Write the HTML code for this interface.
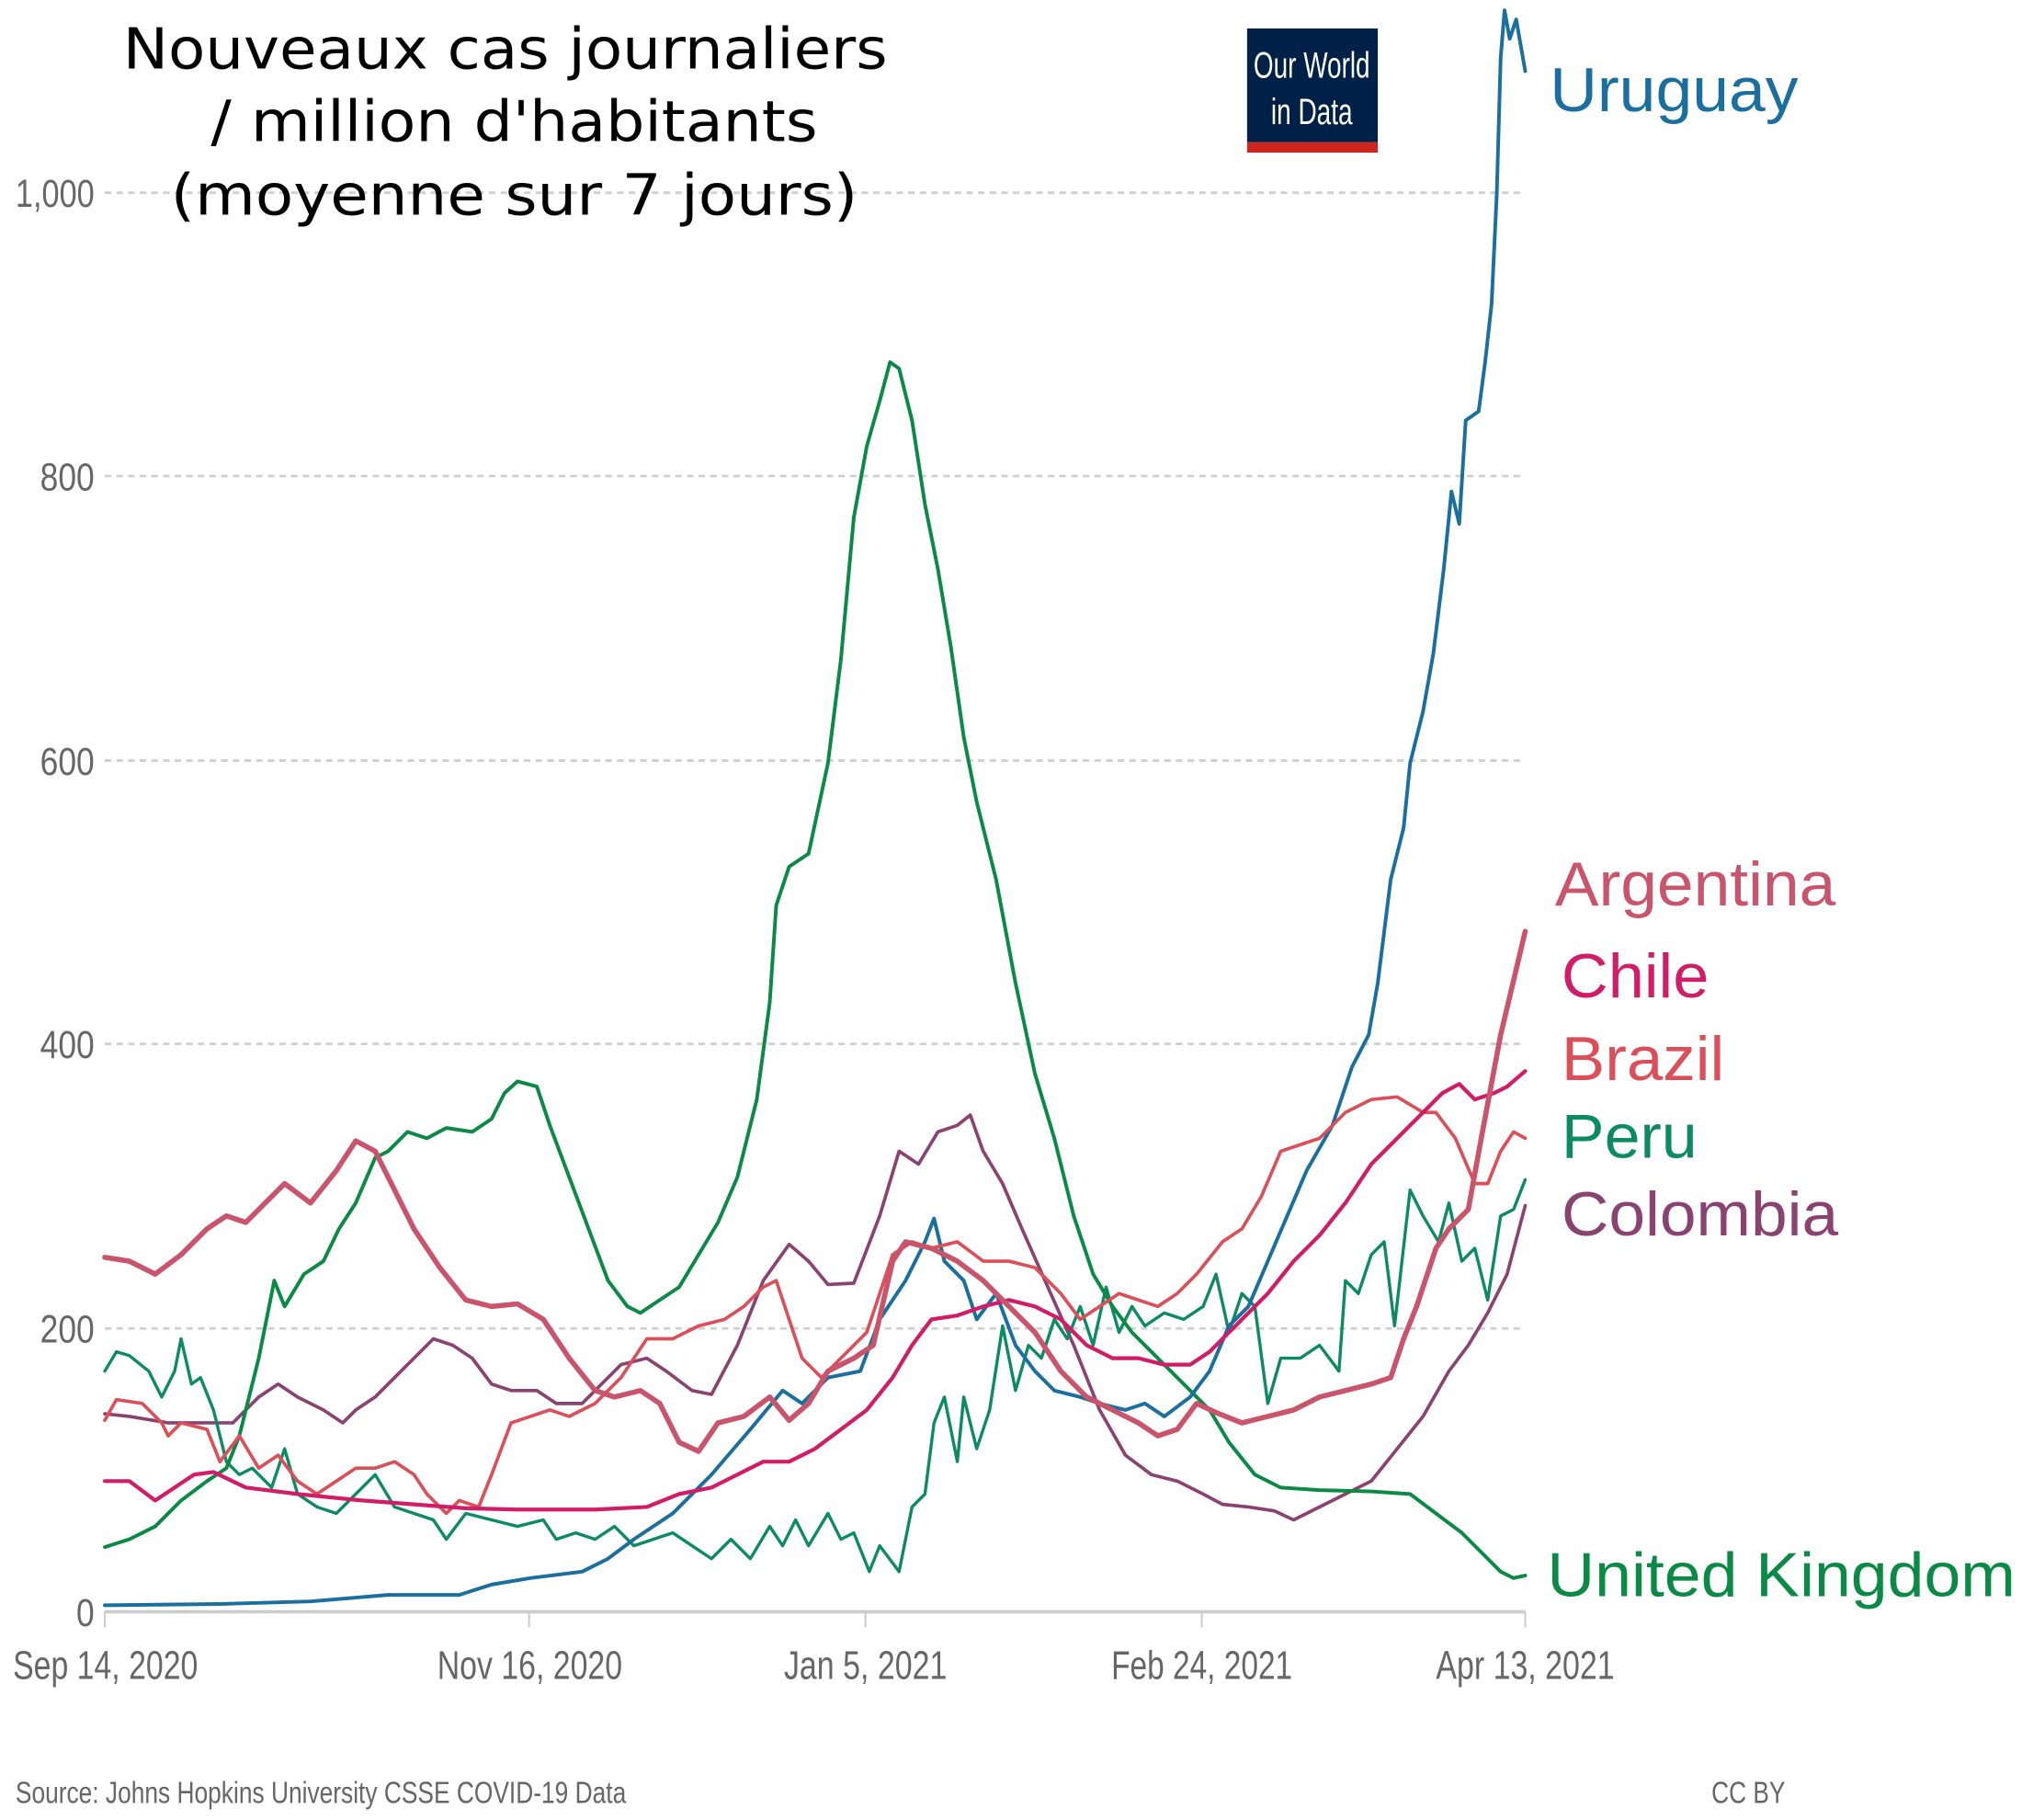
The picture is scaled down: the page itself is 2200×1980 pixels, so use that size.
<!DOCTYPE html>
<html><head><meta charset="utf-8"><style>
html,body{margin:0;padding:0;background:#fff;}
svg{display:block;}
.ax{font-family:"Liberation Sans",sans-serif;fill:#666;}
.lab{font-family:"Liberation Sans",sans-serif;}
.t{font-family:"DejaVu Sans",sans-serif;fill:#000;font-size:44px;}
polyline{fill:none;stroke-linejoin:round;stroke-linecap:round;}
</style></head><body>
<svg width="2200" height="1980" viewBox="0 0 1563 1407" preserveAspectRatio="none">
<rect width="1563" height="1407" fill="#fff"/>
<g stroke="#cfcfcf" stroke-width="2" stroke-dasharray="5,4">
<line x1="81" y1="149" x2="1179" y2="149"/>
<line x1="81" y1="368" x2="1179" y2="368"/>
<line x1="81" y1="588" x2="1179" y2="588"/>
<line x1="81" y1="807" x2="1179" y2="807"/>
<line x1="81" y1="1027" x2="1179" y2="1027"/>
</g>
<line x1="81" y1="1246" x2="1179" y2="1246" stroke="#ccc" stroke-width="2.5"/>
<g stroke="#ccc" stroke-width="1.5">
<line x1="81" y1="1246" x2="81" y2="1258"/><line x1="409" y1="1246" x2="409" y2="1258"/>
<line x1="669" y1="1246" x2="669" y2="1258"/><line x1="929" y1="1246" x2="929" y2="1258"/>
<line x1="1179" y1="1246" x2="1179" y2="1258"/>
</g>
<g class="ax" font-size="30" text-anchor="end">
<text x="73" y="160" textLength="61" lengthAdjust="spacingAndGlyphs">1,000</text>
<text x="73" y="379" textLength="42" lengthAdjust="spacingAndGlyphs">800</text>
<text x="73" y="599" textLength="42" lengthAdjust="spacingAndGlyphs">600</text>
<text x="73" y="818" textLength="42" lengthAdjust="spacingAndGlyphs">400</text>
<text x="73" y="1038" textLength="42" lengthAdjust="spacingAndGlyphs">200</text>
<text x="73" y="1257" textLength="14" lengthAdjust="spacingAndGlyphs">0</text>
</g>
<g class="ax" font-size="31" fill="#555">
<text x="10" y="1298" textLength="143" lengthAdjust="spacingAndGlyphs">Sep 14, 2020</text>
<text x="338" y="1298" textLength="143" lengthAdjust="spacingAndGlyphs">Nov 16, 2020</text>
<text x="606" y="1298" textLength="126" lengthAdjust="spacingAndGlyphs">Jan 5, 2021</text>
<text x="859" y="1298" textLength="140" lengthAdjust="spacingAndGlyphs">Feb 24, 2021</text>
<text x="1110" y="1298" textLength="138" lengthAdjust="spacingAndGlyphs">Apr 13, 2021</text>
</g>
<text class="ax" x="12" y="1394" font-size="24" textLength="472" lengthAdjust="spacingAndGlyphs">Source: Johns Hopkins University CSSE COVID-19 Data</text>
<text class="ax" x="1323" y="1394" font-size="24" textLength="57" lengthAdjust="spacingAndGlyphs">CC BY</text>
<text class="t" x="95" y="53" textLength="591" lengthAdjust="spacingAndGlyphs">Nouveaux cas journaliers</text>
<text class="t" x="163" y="109" textLength="469" lengthAdjust="spacingAndGlyphs">/ million d'habitants</text>
<text class="t" x="132" y="166" textLength="531" lengthAdjust="spacingAndGlyphs">(moyenne sur 7 jours)</text>
<rect x="964" y="22" width="101" height="88" fill="#002147"/>
<rect x="964" y="110" width="101" height="8" fill="#ce261e"/>
<g class="lab" fill="#fff" font-size="28" text-anchor="middle">
<text x="1014" y="60" textLength="90" lengthAdjust="spacingAndGlyphs">Our World</text>
<text x="1014" y="96" textLength="63" lengthAdjust="spacingAndGlyphs">in Data</text>
</g>
<!-- Colombia -->
<polyline stroke="#8a4270" stroke-width="2.6" points="81,1093 100,1095 130,1100 160,1100 180,1100 200,1080 215,1070 230,1080 250,1090 265,1100 275,1090 290,1080 305,1065 320,1050 335,1035 350,1040 365,1050 380,1070 395,1075 415,1075 430,1085 450,1085 465,1070 480,1055 500,1050 515,1060 535,1075 550,1078 570,1040 590,990 610,962 625,975 640,993 660,992 680,940 695,890 710,900 725,875 740,870 750,862 760,890 775,915 790,950 810,995 830,1040 850,1090 870,1125 890,1140 910,1145 930,1155 945,1163 965,1165 985,1168 1000,1175 1020,1165 1040,1155 1060,1145 1080,1120 1100,1095 1120,1060 1135,1040 1150,1015 1165,985 1179,932"/>
<!-- Peru -->
<polyline stroke="#0c8a62" stroke-width="2.4" points="81,1060 90,1045 100,1048 115,1060 125,1080 135,1060 140,1035 148,1070 155,1065 165,1090 175,1130 185,1140 195,1135 210,1150 220,1120 230,1155 245,1165 260,1170 275,1155 290,1140 305,1165 320,1170 335,1175 345,1190 360,1170 380,1175 400,1180 420,1175 430,1190 445,1185 460,1190 475,1180 490,1195 505,1190 520,1185 535,1195 550,1205 565,1190 580,1205 595,1180 605,1195 615,1175 625,1195 640,1170 650,1190 660,1185 672,1215 680,1195 695,1215 705,1165 715,1155 722,1100 730,1080 740,1130 745,1080 755,1120 765,1090 775,1025 785,1075 795,1040 805,1050 815,1020 825,1035 835,1010 845,1040 855,995 865,1030 875,1010 885,1025 900,1015 915,1020 930,1010 940,985 950,1030 960,1000 970,1010 980,1085 990,1050 1005,1050 1020,1040 1035,1060 1040,990 1050,1000 1060,970 1070,960 1078,1025 1090,920 1100,940 1112,960 1120,930 1130,975 1140,965 1150,1005 1160,940 1170,935 1179,912"/>
<!-- UK -->
<polyline stroke="#0a8a45" stroke-width="2.8" points="81,1196 100,1190 120,1180 140,1160 160,1145 175,1135 185,1110 200,1050 212,990 220,1010 235,985 250,975 262,950 275,930 290,895 300,890 315,875 330,880 345,872 365,875 380,865 390,845 400,836 415,840 425,870 440,910 455,950 470,990 485,1010 495,1015 510,1005 525,995 540,970 555,945 570,910 585,850 595,775 600,700 610,670 625,660 640,590 650,510 660,400 670,345 680,310 688,280 695,285 705,325 715,390 725,440 735,500 745,570 755,620 770,680 785,760 800,830 815,880 830,940 845,985 860,1010 875,1030 890,1045 905,1060 920,1075 935,1090 950,1115 970,1140 990,1150 1020,1152 1060,1153 1090,1155 1110,1170 1130,1185 1150,1205 1160,1215 1170,1220 1179,1218"/>
<!-- Uruguay -->
<polyline stroke="#1a6f9e" stroke-width="2.8" points="81,1241 170,1240 240,1238 300,1233 355,1233 380,1225 410,1220 450,1215 470,1205 490,1190 520,1170 550,1140 580,1105 605,1075 620,1085 640,1065 665,1060 680,1020 700,990 715,960 722,942 730,975 745,990 755,1020 770,1000 785,1040 800,1060 815,1075 835,1080 850,1085 870,1090 885,1085 900,1095 920,1080 935,1060 950,1025 965,1010 980,975 995,940 1010,905 1030,870 1045,825 1058,800 1065,760 1075,680 1085,640 1090,590 1100,550 1108,505 1116,440 1122,380 1128,405 1133,325 1143,318 1148,280 1153,235 1157,150 1160,45 1163,8 1167,30 1172,15 1179,55"/>
<!-- Brazil -->
<polyline stroke="#dc4f58" stroke-width="2.6" points="81,1098 90,1082 110,1085 125,1100 130,1110 140,1100 160,1105 170,1130 185,1110 200,1135 215,1125 230,1145 245,1155 260,1145 275,1135 290,1135 305,1130 320,1140 330,1155 345,1170 355,1160 370,1165 380,1140 395,1100 410,1095 425,1090 440,1095 460,1085 480,1065 500,1035 520,1035 540,1025 560,1020 575,1010 590,995 600,990 610,1020 620,1050 635,1065 650,1050 670,1030 690,970 705,960 720,965 740,960 760,975 780,975 800,980 820,1000 835,1020 850,1010 865,1000 880,1005 895,1010 910,1000 925,985 945,960 960,950 975,925 990,890 1005,885 1020,880 1040,860 1060,850 1080,848 1100,860 1110,860 1125,880 1140,915 1150,915 1160,890 1170,875 1179,880"/>
<!-- Chile -->
<polyline stroke="#d11d67" stroke-width="3" points="81,1145 100,1145 120,1160 150,1140 165,1138 190,1150 230,1155 280,1160 320,1163 360,1166 400,1167 460,1167 500,1165 525,1155 550,1150 570,1140 590,1130 610,1130 630,1120 650,1105 670,1090 690,1065 705,1040 720,1020 740,1017 760,1010 780,1005 800,1010 820,1020 840,1040 860,1050 880,1050 900,1055 920,1055 935,1045 950,1030 965,1015 980,1000 1000,975 1020,955 1040,930 1060,900 1080,880 1100,860 1115,845 1128,838 1140,850 1155,845 1165,840 1179,828"/>
<!-- Argentina -->
<polyline stroke="#c9546b" stroke-width="4" points="81,972 100,975 120,985 140,970 160,950 175,940 190,945 205,930 220,915 240,930 260,905 275,882 290,890 305,920 320,950 340,980 360,1005 380,1010 400,1008 420,1020 440,1050 460,1075 475,1080 495,1075 510,1085 525,1115 540,1122 555,1100 575,1095 595,1080 610,1098 625,1085 640,1060 660,1050 675,1040 690,975 700,960 720,965 740,975 760,990 780,1010 800,1030 820,1060 840,1080 860,1090 880,1100 895,1110 910,1105 925,1085 940,1092 960,1100 980,1095 1000,1090 1020,1080 1040,1075 1060,1070 1075,1065 1085,1035 1095,1010 1110,965 1120,950 1135,935 1145,880 1160,800 1179,720"/>
<g class="lab" font-size="48">
<text x="1198" y="86" fill="#1a6f9e" textLength="192" lengthAdjust="spacingAndGlyphs">Uruguay</text>
<text x="1202" y="700" fill="#c9546b" textLength="217" lengthAdjust="spacingAndGlyphs">Argentina</text>
<text x="1207" y="771" fill="#d11d67" textLength="114" lengthAdjust="spacingAndGlyphs">Chile</text>
<text x="1207" y="835" fill="#dc4f58" textLength="126" lengthAdjust="spacingAndGlyphs">Brazil</text>
<text x="1207" y="895" fill="#0c8a62" textLength="105" lengthAdjust="spacingAndGlyphs">Peru</text>
<text x="1207" y="955" fill="#8a4270" textLength="214" lengthAdjust="spacingAndGlyphs">Colombia</text>
<text x="1196" y="1234" fill="#0a8a45" textLength="362" lengthAdjust="spacingAndGlyphs">United Kingdom</text>
</g>
</svg>
</body></html>
